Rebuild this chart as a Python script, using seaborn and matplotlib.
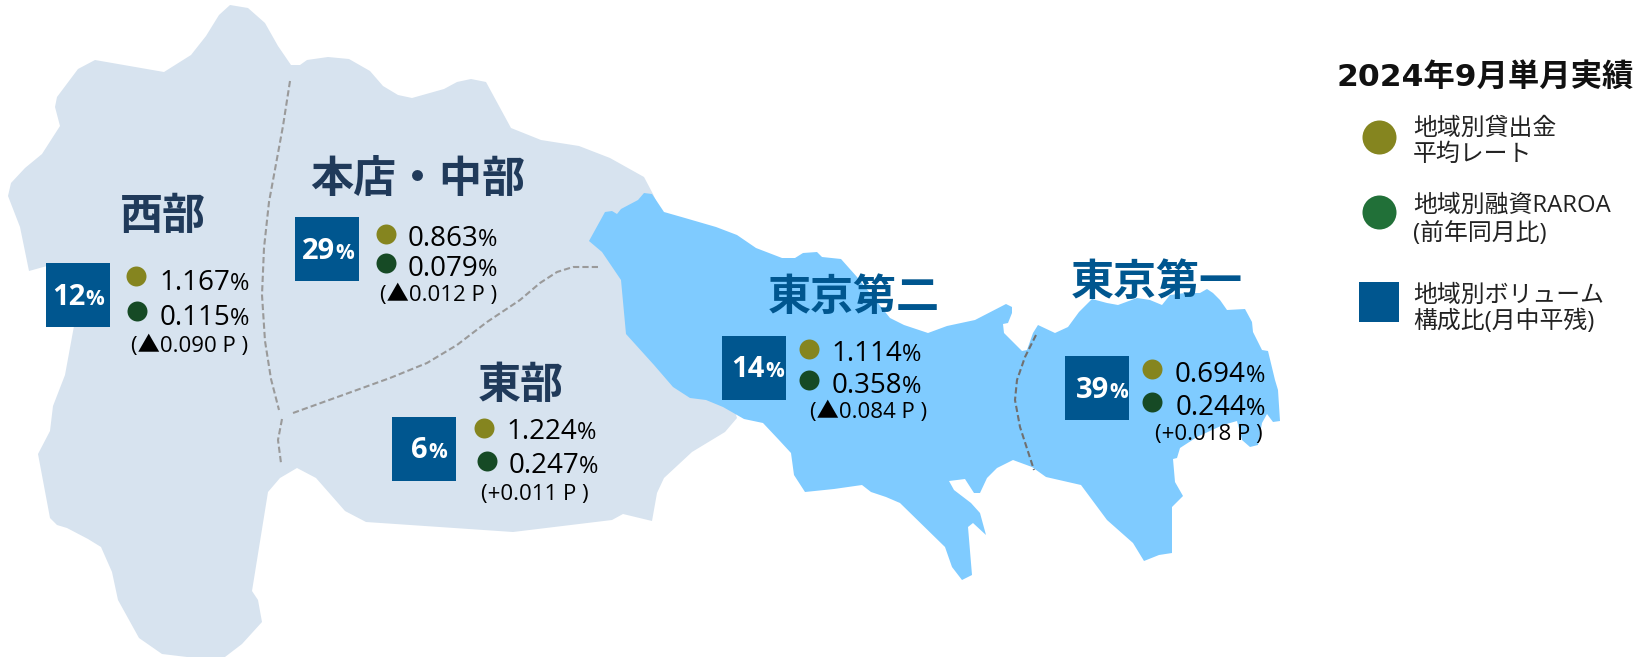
import matplotlib
matplotlib.use("Agg")
import matplotlib.pyplot as plt
import pandas as pd
import seaborn as sns

# chart values
regions = ["西部", "本店・中部", "東部", "東京第二", "東京第一"]
volume_share = ["12", "29", "6", "14", "39"]
lending_rate = ["1.167", "0.863", "1.224", "1.114", "0.694"]
raroa = ["0.115", "0.079", "0.247", "0.358", "0.244"]
raroa_change = ["(▲0.090 P )", "(▲0.012 P )", "(+0.011 P )", "(▲0.084 P )", "(+0.018 P )"]

legend_title = "2024年9月単月実績"
legend_rate = ["地域別貸出金", "平均レート"]
legend_raroa = ["地域別融資RAROA", "(前年同月比)"]
legend_volume = ["地域別ボリューム", "構成比(月中平残)"]

# map outlines, in picture pixels
outer_area = [
    (230, 5), (248, 8), (265, 23), (278, 46), (291, 65), (300, 65), (307, 60), (328, 57),
    (349, 59), (370, 71), (383, 86), (398, 95), (412, 98), (444, 89), (457, 82), (471, 79),
    (486, 82), (511, 128), (541, 140), (579, 146), (610, 158), (644, 177), (653, 194),
    (700, 300), (737, 418), (725, 432), (692, 452), (664, 478), (657, 493), (652, 521),
    (623, 514), (612, 520), (513, 532), (366, 522), (345, 511), (316, 478), (297, 468),
    (280, 478), (268, 492), (252, 591), (258, 600), (262, 622), (242, 644), (225, 657),
    (187, 657), (162, 654), (139, 638), (118, 600), (112, 572), (101, 547), (88, 539),
    (67, 528), (57, 525), (50, 518), (38, 454), (50, 431), (53, 406), (65, 375), (74, 326),
    (70, 300), (47, 266), (29, 271), (20, 227), (8, 196), (11, 183), (25, 168), (42, 154),
    (60, 126), (55, 107), (57, 97), (78, 69), (95, 60), (164, 72), (191, 55), (206, 36),
    (219, 15),
]
tokyo_area = [
    (589, 241), (605, 212), (612, 211), (617, 214), (621, 209), (638, 200), (644, 193),
    (652, 194), (664, 212), (685, 218), (716, 227), (737, 235), (756, 248), (782, 258),
    (795, 258), (803, 253), (817, 252), (822, 257), (841, 259), (857, 277), (890, 318),
    (904, 325), (928, 333), (947, 326), (975, 320), (1006, 304), (1012, 307), (1012, 313),
    (1008, 323), (1003, 324), (1004, 333), (1022, 351), (1027, 350), (1033, 333),
    (1038, 325), (1055, 333), (1068, 327), (1079, 312), (1092, 299), (1107, 303),
    (1118, 305), (1137, 298), (1150, 300), (1162, 305), (1170, 295), (1185, 293),
    (1200, 293), (1207, 289), (1213, 293), (1220, 300), (1227, 310), (1245, 309),
    (1252, 322), (1253, 332), (1262, 350), (1268, 351), (1275, 380), (1278, 390),
    (1280, 421), (1273, 422), (1267, 414), (1262, 423), (1258, 445), (1250, 447),
    (1242, 440), (1237, 421), (1223, 425), (1197, 437), (1180, 448), (1177, 458),
    (1173, 459), (1175, 482), (1183, 496), (1172, 507), (1172, 553), (1159, 555),
    (1144, 561), (1133, 543), (1107, 520), (1081, 485), (1046, 477), (1032, 467),
    (1013, 460), (997, 468), (987, 478), (980, 493), (974, 493), (965, 479), (949, 481),
    (954, 490), (971, 503), (980, 513), (986, 535), (973, 523), (968, 527), (972, 575),
    (962, 580), (952, 567), (945, 547), (900, 503), (886, 497), (871, 492), (862, 485),
    (834, 489), (805, 492), (794, 475), (791, 453), (779, 440), (763, 423), (744, 419),
    (723, 407), (706, 400), (690, 398), (673, 387), (654, 365), (626, 334), (621, 280),
    (602, 252),
]
borders = [
    [(290, 81), (283, 126), (276, 164), (269, 202), (264, 248), (262, 295), (265, 341), (271, 379), (279, 410)],
    [(282, 419), (278, 440), (281, 463)],
    [(293, 413), (343, 395), (390, 378), (427, 363), (457, 345), (487, 322), (520, 300),
     (540, 283), (557, 272), (573, 267), (598, 267)],
]
tokyo_border = [(1036, 335), (1025, 357), (1017, 380), (1015, 400), (1020, 427), (1034, 470)]

# label layout per region
title_x = [163, 418, 521, 854, 1157]
title_y = [216, 179, 385, 297, 282]
box_x = [78.5, 327.5, 424.5, 754.5, 1097.5]
box_y = [294.5, 248.5, 448.5, 367.5, 387.5]
share_x = [85, 335, 428, 765, 1109]
share_y = [305, 259, 458, 377, 398]
dot_x = [136, 386, 484, 809, 1152]
dot_y = [276, 234, 428, 349, 369]
dot2_x = [137, 386, 487, 809, 1152]
dot2_y = [311, 263, 461, 380, 402]
num_x = [230, 478, 577, 902, 1246]
num_y = [290, 246, 439, 361, 382]
num2_x = [230, 478, 579, 902, 1246]
num2_y = [325, 276, 473, 393, 415]
change_x = [190, 439, 535, 869, 1209]
change_y = [352, 301, 500, 418, 440]

sns.set_theme(style="white")
plt.rcParams["font.family"] = ["Open Sans", "Noto Sans CJK JP", "DejaVu Sans"]
cjk = ["Noto Sans CJK JP", "DejaVu Sans"]

fig = plt.figure(figsize=(16.49, 6.62), dpi=100)
ax = fig.add_axes([0, 0, 1, 1])

ax.fill(*zip(*outer_area), color="#D7E3EF", lw=0, zorder=1)
ax.fill(*zip(*tokyo_area), color="#7FCBFF", lw=0, zorder=2)
for line in borders:
    ax.plot(*zip(*line), color="#9A9A9A", lw=1.5, ls=(0, (3, 1.5)), zorder=3)
ax.plot(*zip(*tokyo_border), color="#707070", lw=1.5, ls=(0, (3, 1.5)), zorder=3)

marks = pd.DataFrame({"box_x": box_x, "box_y": box_y, "dot_x": dot_x, "dot_y": dot_y,
                      "dot2_x": dot2_x, "dot2_y": dot2_y})
sns.scatterplot(data=marks, x="box_x", y="box_y", marker="s", s=2070, color="#00568F",
                linewidth=0, ax=ax, legend=False, zorder=4)
sns.scatterplot(data=marks, x="dot_x", y="dot_y", s=207, color="#85851F",
                linewidth=0, ax=ax, legend=False, zorder=4)
sns.scatterplot(data=marks, x="dot2_x", y="dot2_y", s=207, color="#164A25",
                linewidth=0, ax=ax, legend=False, zorder=4)

title_colors = ["#203A5A", "#203A5A", "#203A5A", "#00568F", "#00568F"]
for i, name in enumerate(regions):
    ax.text(title_x[i], title_y[i], name, family=cjk, fontsize=31, fontweight="bold",
            color=title_colors[i], ha="center", va="center", zorder=5)
    ax.text(share_x[i], share_y[i], volume_share[i], fontsize=21, fontweight="bold",
            color="white", ha="right", va="baseline", zorder=5)
    ax.text(share_x[i], share_y[i], "%", fontsize=15, fontweight="bold",
            color="white", ha="left", va="baseline", zorder=5)
    ax.text(num_x[i], num_y[i], lending_rate[i], fontsize=20, color="black",
            ha="right", va="baseline", zorder=5)
    ax.text(num_x[i], num_y[i], "%", fontsize=17, color="black",
            ha="left", va="baseline", zorder=5)
    ax.text(num2_x[i], num2_y[i], raroa[i], fontsize=20, color="black",
            ha="right", va="baseline", zorder=5)
    ax.text(num2_x[i], num2_y[i], "%", fontsize=17, color="black",
            ha="left", va="baseline", zorder=5)
    ax.text(change_x[i], change_y[i], raroa_change[i], fontsize=16, color="black",
            ha="center", va="baseline", zorder=5)

# legend block
ax.text(1485, 77, legend_title, family=["DejaVu Sans", "Noto Sans CJK JP"], fontsize=22.6,
        fontweight="bold", color="#111111", ha="center", va="center")
sns.scatterplot(x=[1379], y=[137], s=600, color="#85851F", linewidth=0, ax=ax, legend=False)
sns.scatterplot(x=[1379], y=[212], s=600, color="#217038", linewidth=0, ax=ax, legend=False)
sns.scatterplot(x=[1379.5], y=[301.5], marker="s", s=790, color="#00568F", linewidth=0, ax=ax, legend=False)
for lines, ys in [(legend_rate, (129, 155)), (legend_raroa, (206, 234)), (legend_volume, (296, 322))]:
    for text, y in zip(lines, ys):
        ax.text(1413, y, text, fontsize=17.2, color="#222222", ha="left", va="center")

ax.set_xlim(0, 1649)
ax.set_ylim(662, 0)
ax.axis("off")
fig.savefig("out.png", dpi=100)
